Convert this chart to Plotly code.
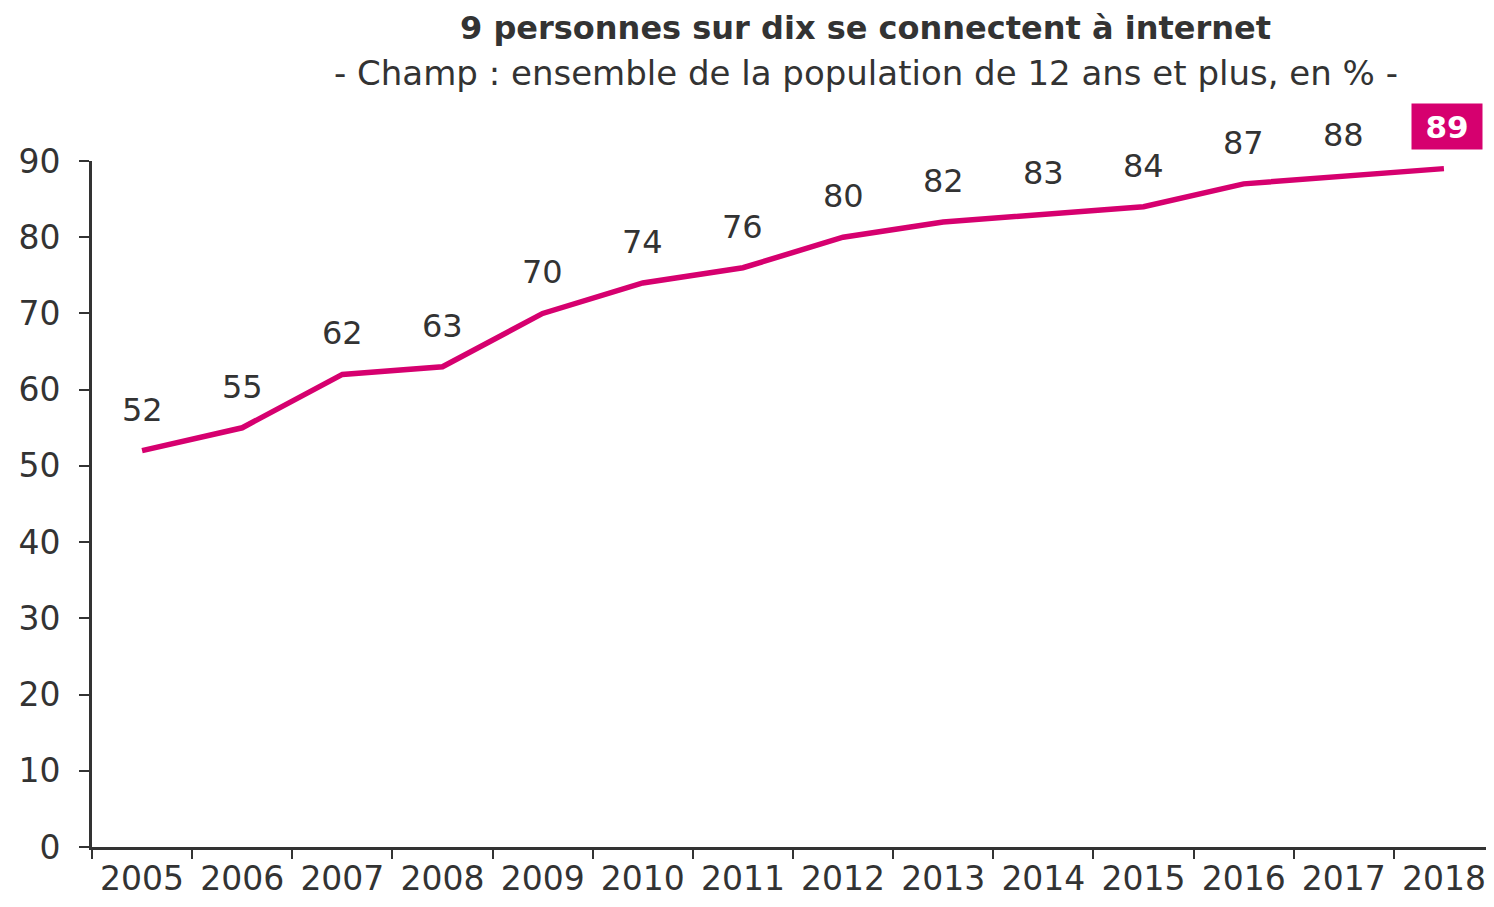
import plotly.graph_objects as go

years = ["2005", "2006", "2007", "2008", "2009", "2010", "2011",
         "2012", "2013", "2014", "2015", "2016", "2017", "2018"]
values = [52, 55, 62, 63, 70, 74, 76, 80, 82, 83, 84, 87, 88, 89]
y_ticks = [0, 10, 20, 30, 40, 50, 60, 70, 80, 90]

MAGENTA = "#d6006f"
GREY = "#333333"
FONT = "DejaVu Sans"

fig = go.Figure()
fig.add_trace(go.Scatter(
    x=list(range(len(years))), y=values, mode="lines",
    line=dict(color=MAGENTA, width=5.5),
    cliponaxis=False, hoverinfo="skip",
))

for i, v in enumerate(values):
    last = i == len(values) - 1
    if last:
        fig.add_annotation(
            x=i, y=v, text=f"<b>{v}</b>", showarrow=False, yshift=42, xshift=3,
            font=dict(family=FONT, size=31, color="white"),
            bgcolor=MAGENTA, borderpad=3, width=64, height=39,
        )
    else:
        fig.add_annotation(
            x=i, y=v, text=str(v), showarrow=False, yshift=41,
            font=dict(family=FONT, size=32, color=GREY),
        )

fig.add_annotation(
    xref="paper", yref="paper", x=0.552, y=1, yshift=133,
    xanchor="center", yanchor="middle",
    text="<b>9 personnes sur dix se connectent à internet</b>",
    showarrow=False, font=dict(family=FONT, size=32, color=GREY),
)
fig.add_annotation(
    xref="paper", yref="paper", x=0.552, y=1, yshift=88,
    xanchor="center", yanchor="middle",
    text="- Champ : ensemble de la population de 12 ans et plus, en % -",
    showarrow=False, font=dict(family=FONT, size=34, color=GREY),
)

fig.update_layout(
    width=1486, height=899,
    margin=dict(l=84, r=0, t=153, b=60),
    paper_bgcolor="white", plot_bgcolor="white",
    showlegend=False,
    font=dict(family=FONT, size=33, color=GREY),
)
fig.update_xaxes(
    tickmode="array", tickvals=list(range(len(years))), ticktext=years,
    range=[-0.5, 13.5],
    ticks="", showline=True, linecolor=GREY, linewidth=3,
    showgrid=False, zeroline=False,
    tickfont=dict(family=FONT, size=33, color=GREY),
    minor=dict(tickvals=[i - 0.5 for i in range(len(years) + 1)],
               ticks="outside", ticklen=9, tickwidth=2, tickcolor=GREY,
               showgrid=False),
)
fig.update_yaxes(
    range=[0, 90], tickvals=y_ticks,
    ticks="outside", ticklen=10, tickwidth=2, tickcolor=GREY,
    showline=True, linecolor=GREY, linewidth=3,
    showgrid=False, zeroline=False,
    ticklabelstandoff=12,
    tickfont=dict(family=FONT, size=33, color=GREY),
)

fig.write_html("out.html")
